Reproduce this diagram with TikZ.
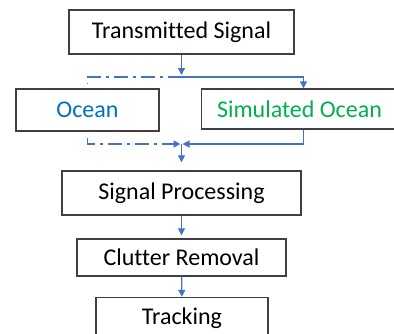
\documentclass[tikz,border=0pt]{standalone}
\usepackage{fontspec}
\setmainfont{Carlito}[Ligatures=NoCommon]
\usetikzlibrary{arrows.meta}
\definecolor{flowblue}{RGB}{68,114,196}
\definecolor{oceanblue}{RGB}{0,112,192}
\definecolor{simgreen}{RGB}{0,176,80}
\begin{document}
\begin{tikzpicture}[x=0.5pt, y=-0.5pt, font=\fontsize{12}{14}\selectfont]
      \tikzset{
	  stagebox/.style={rectangle,draw=black!75,line width=0.7pt,fill=white,inner sep=0pt,text centered,text=black},
	  flow/.style={draw=flowblue,line width=0.65pt,-{Triangle[width=3.5pt,length=3.5pt]}},
	  dashflow/.style={flow,line width=0.9pt,dash pattern=on 7pt off 2.5pt on 1.5pt off 2.5pt}
      }

      \useasboundingbox (0,0) rectangle (394,333);

      \node[stagebox, minimum width=112.5pt, minimum height=22pt] (signal) at (181.5,32) {Transmitted Signal};
      \node[stagebox, minimum width=71.5pt, minimum height=21pt, text=oceanblue] (ocean) at (87.5,110) {Ocean};
      \node[stagebox, minimum width=98pt, minimum height=20pt, text=simgreen] (simocean) at (299.5,109) {Simulated Ocean};
      \node[stagebox, minimum width=119.5pt, minimum height=22pt] (processing) at (181.5,193) {Signal Processing};
      \node[stagebox, minimum width=104.5pt, minimum height=18.5pt] (clutter) at (181.5,257.5) {Clutter Removal};
      \node[stagebox, minimum width=86pt, minimum height=21pt] (tracking) at (182,318.5) {Tracking};

      \coordinate (split) at (181.5,77);
      \coordinate (merge) at (181.5,144);

      % into the two oceans
      \draw[flow, shorten >=1pt] (signal) -- (split);
      \draw[flow] (split) -| ([xshift=2pt]simocean.north);
      \draw[dashflow, -, shorten >=2pt] (split) -| (ocean.north);

      % back together
      \draw[dashflow, shorten <=3pt, shorten >=0.5pt] (ocean.south) |- (merge);
      \draw[flow, shorten >=0.5pt] ([xshift=2pt]simocean.south) |- (merge);
      \draw[flow, shorten >=4pt] (merge) -- (processing);
      \draw[flow, shorten >=1.5pt] (processing) -- (clutter);
      \draw[flow] (clutter) -- (tracking);
    \end{tikzpicture}
\end{document}
